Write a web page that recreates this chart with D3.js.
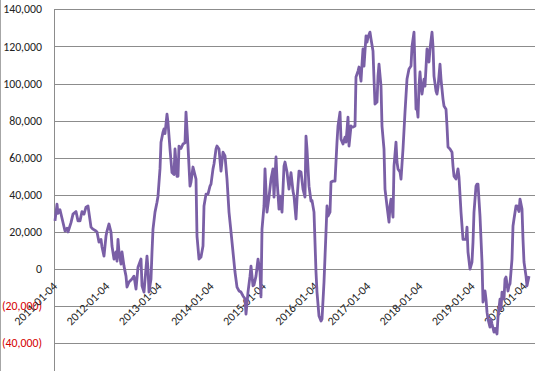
<!DOCTYPE html>
<html>
<head>
<meta charset="utf-8">
<script src="https://d3js.org/d3.v7.min.js"></script>
<style>
body{margin:0;background:#fff;}
svg{display:block;font-family:Carlito,Calibri,"Liberation Sans",sans-serif;}
</style>
</head>
<body>
<svg id="chart"></svg>
<script>
var width=550, height=371;

// weeks counted from 2011-01-04
var weekOffsets=[0,2,3,5,10,12,13,16,18,21,23,25,27,29,31,33,36,38,41,42,44,46,47,49,51,52,54,56,57,59,61,62,63,64,66,67,69,71,72,74,77,79,81,83,86,87,89,92,93,94,96,97,98,100,102,103,105,106,108,109,110,112,113,115,117,119,
120,122,123,124,126,128,130,131,133,135,136,138,141,142,144,146,148,149,151,153,155,156,158,159,161,162,164,166,168,170,172,174,176,178,180,182,184,186,188,190,191,193,195,196,198,199,201,203,205,206,207,209,210,212,214,216,218,219,221,222,224,225,227,229,230,232,234,236,238,239,
241,242,244,246,248,250,251,252,254,256,257,259,261,262,264,266,267,269,271,272,273,275,276,278,280,282,283,285,286,288,290,291,293,294,296,297,298,300,301,303,304,306,307,308,309,311,312,313,315,316,318,319,320,322,323,324,326,327,329,330,332,334,335,336,338,339,341,342,343,345,346,348,350,352,354,356,357,
359,361,362,363,364,365,366,367,369,370,372,374,375,377,378,379,381,382,383,385,386,388,389,391,392,393,395,397,398,399,401,403,404,406,408,410,411,412,413,415,417,418,419,421,422,423,425,427,428,430,431,432,433,435,436,437,439,440,442,443,445,446,447,449,450,451,453,454,455,457,458,459,461,462,464,465,467,468,469,471,472,474,476,477,479,480];

var values=[26000,35000,30000,32000,20500,22000,20000,25000,29600,31000,26000,26000,31000,29600,33400,34000,22600,21500,20500,20000,14500,16000,11900,7000,17800,20500,24300,20000,12400,5400,9200,4300,16000,9200,2700,9200,1600,-3800,-9700,-7000,-5400,-3800,-10800,1000,5400,-9000,-12400,7000,0,-12400,-5400,9200,21500,30700,36000,39300,54000,68400,73800,75500,73000,83500,79000,64700,52000,51000,
64700,50000,50000,66300,65000,67400,68000,84600,66300,44700,46900,55000,48500,17800,5400,6500,12400,34000,40400,40400,44700,45800,54000,56600,64700,66300,64700,52800,63000,61000,48500,30700,20000,9200,-1600,-9700,-11800,-12400,-14500,-16000,-24300,-12400,-3800,1600,-9000,-8500,-3800,5400,-1600,-15000,21500,34000,54000,30700,38800,48500,54000,38800,60400,48500,32300,39300,30700,55500,57700,52300,43100,52000,
42000,39300,27000,37700,52800,52300,43100,38800,71700,64700,44700,36700,37000,30700,-1600,-12400,-25300,-28000,-27000,-7000,20000,34000,28600,30700,46900,47400,47400,68400,77100,84600,70000,67400,71100,68400,81900,66300,77100,76500,76500,77100,103500,106700,108900,101300,110500,118600,109400,125600,122300,125000,127700,124000,117500,102400,88900,90000,104000,110500,98600,77100,64700,43100,34000,25300,34000,37700,28000,
55500,68400,57700,54000,52300,48500,64700,84600,102400,107800,109400,120000,127700,86200,87000,81900,98600,106200,98600,94300,102400,98600,118600,111600,118600,127700,120000,104000,95900,94300,98000,110500,102400,91600,87900,86200,77100,65800,64700,63000,55500,50100,48500,54000,49500,30700,16000,16000,16000,22600,9200,0,3800,14500,30700,44700,45800,45800,28600,3800,-17800,-11800,-16200,-23200,-27000,-31300,-27000,-29600,-34000,-32000,-35000,-25900,-16200,-21600,-12400,-16200,-5400,-4300,-11800,-9000,-8000,5400,23200,27000,34000,34000,31000,37700,32300,16000,3800,-3800,-9000,-3800];

var yTicks=[-40000,-20000,0,20000,40000,60000,80000,100000,120000,140000];
var tickYears=[2011,2012,2013,2014,2015,2016,2017,2018,2019,2020];

var startDate=new Date(2011,0,4);
var data=weekOffsets.map(function(w,i){
	return {date:d3.timeWeek.offset(startDate,w), value:values[i]};
});

var svg=d3.select('#chart').attr('width',width).attr('height',height);

var x=d3.scaleTime()
	.domain([startDate,d3.timeWeek.offset(startDate,480)])
	.range([55,535]);

var y=d3.scaleLinear()
	.domain([-40000,140000])
	.range([343.3,9.3]);

// chart border on the left
svg.append('line')
	.attr('x1',0.5).attr('x2',0.5).attr('y1',0).attr('y2',height)
	.attr('stroke','#a6a6a6');

// horizontal gridlines
svg.append('g').selectAll('line')
	.data(yTicks)
	.enter().append('line')
	.attr('x1',54).attr('x2',535)
	.attr('y1',function(d){return Math.round(y(d))+0.5})
	.attr('y2',function(d){return Math.round(y(d))+0.5})
	.attr('stroke','#8c8c8c');

// y axis line
svg.append('line')
	.attr('x1',54.5).attr('x2',54.5).attr('y1',Math.round(y(140000))+0.5).attr('y2',height)
	.attr('stroke','#8c8c8c');

var fmt=d3.format(',');
svg.append('g').selectAll('text')
	.data(yTicks)
	.enter().append('text')
	.attr('x',42)
	.attr('y',function(d){return y(d)})
	.attr('dy','0.35em')
	.attr('text-anchor','end')
	.attr('font-size','11.8px')
	.attr('fill',function(d){return d<0 ? '#d40000' : '#222'})
	.text(function(d){return d<0 ? '('+fmt(-d)+')' : fmt(d)});

// x tick labels, rotated
var xFmt=d3.timeFormat('%Y-%m-%d');
svg.append('g').selectAll('text')
	.data(tickYears)
	.enter().append('text')
	.attr('transform',function(d){
		var px=x(new Date(d,0,4));
		return 'translate('+(px+3)+',287) rotate(-45)';
	})
	.attr('text-anchor','end')
	.attr('font-size','11.8px')
	.attr('fill','#222')
	.text(function(d){return xFmt(new Date(d,0,4))});

var line=d3.line()
	.x(function(d){return x(d.date)})
	.y(function(d){return y(d.value)});

svg.append('path')
	.datum(data)
	.attr('d',line)
	.attr('fill','none')
	.attr('stroke','#7a5fa6')
	.attr('stroke-width',2.8)
	.attr('stroke-linejoin','round');
</script>
</body>
</html>
